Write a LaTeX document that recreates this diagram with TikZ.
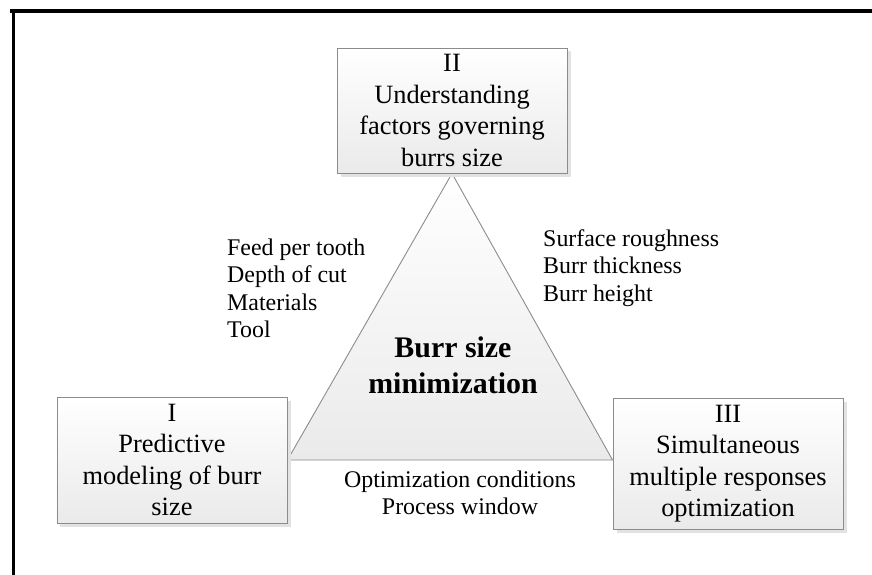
\documentclass[tikz,border=0pt]{standalone}
\usepackage{fontspec}
\setmainfont{Liberation Serif}
\usetikzlibrary{backgrounds}
\definecolor{edgec}{HTML}{8C8C8C}
\definecolor{shadowc}{HTML}{E2E2E2}
\definecolor{fillbot}{HTML}{EAEAEA}
\begin{document}
\begin{tikzpicture}[x=1bp,y=-1bp,
  stagebox/.style={draw=edgec, line width=0.9bp, top color=white, bottom color=fillbot,
    minimum width=230bp, align=center, inner sep=0pt,
    font=\fontsize{26.5}{31.5}\selectfont,
    preaction={fill=shadowc, transform canvas={xshift=3.5bp,yshift=-3.5bp}}},
  listtext/.style={align=left, inner sep=0pt, font=\fontsize{24}{27.5}\selectfont},
  goaltext/.style={align=center, inner sep=0pt, font=\bfseries\fontsize{30}{36}\selectfont},
  frameline/.style={line width=3.4bp, black}]
\useasboundingbox (0,0) rectangle (872,575);
% frame (top and left only)
\coordinate (fa) at (10,11);
\coordinate (fb) at (872,11);
\coordinate (fc) at (13.7,9.3);
\coordinate (fd) at (13.7,575);
\draw[frameline] (fa) -- (fb);
\draw[frameline] (fc) -- (fd);
% stage boxes
\node[stagebox, minimum height=125bp] (top) at (452,110.5) {II\\Understanding\\factors governing\\burrs size};
\node[stagebox, minimum height=126bp] (one) at (172,460) {I\\Predictive\\modeling of burr\\size};
\node[stagebox, minimum height=131bp] (three) at (728,463.5) {III\\Simultaneous\\multiple responses\\optimization};
% triangle
\begin{pgfonlayer}{background}
\draw[edgec, line width=0.9bp, top color=white, bottom color=fillbot]
  (one.east) -- (top.south) -- (three.west |- one.east) -- cycle;
\end{pgfonlayer}
% texts
\node[goaltext] (goal) at (453,365) {Burr size\\minimization};
\node[listtext, anchor=west] (causes) at (227,288.5) {Feed per tooth\\Depth of cut\\Materials\\Tool};
\node[listtext, anchor=west] (resp) at (543,268) {Surface roughness\\Burr thickness\\Burr height};
\node[listtext, align=center] (cond) at (460,493) {Optimization conditions\\Process window};
\end{tikzpicture}
\end{document}
